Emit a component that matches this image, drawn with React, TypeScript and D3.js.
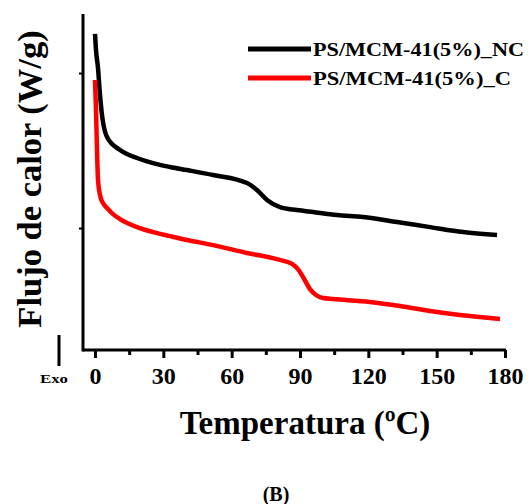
import React, { useEffect, useRef } from 'react';
import * as d3 from 'd3';

// temperature (ºC) and heat flow (W/g, arbitrary offset)
const tempNC = [0, 0.44, 1.32, 2.2, 3.07, 3.51, 5.27, 10.98, 18.44, 25.46, 32.93, 40.39, 51.8, 66.73, 71.12, 75.51, 81.22, 88.68, 95.71, 106.2, 117.7, 132.6, 147.1, 161.6, 176.5];
const flowNC = [2.252, 2.148, 2.032, 1.858, 1.729, 1.684, 1.587, 1.503, 1.452, 1.419, 1.394, 1.374, 1.342, 1.29, 1.245, 1.181, 1.135, 1.116, 1.103, 1.084, 1.071, 1.039, 1.006, 0.974, 0.955];

const tempC = [0, 0.44, 0.88, 1.32, 2.2, 3.51, 5.27, 7.9, 10.98, 18.44, 25.46, 32.93, 40.39, 51.8, 66.73, 81.22, 86.49, 89.12, 91.32, 94.39, 97.02, 100.1, 104.5, 120.7, 133.9, 147.1, 160.2, 177.8];
const flowC = [1.955, 1.761, 1.503, 1.31, 1.213, 1.161, 1.129, 1.09, 1.058, 1.006, 0.974, 0.948, 0.923, 0.89, 0.839, 0.794, 0.768, 0.735, 0.684, 0.606, 0.568, 0.548, 0.542, 0.523, 0.497, 0.465, 0.439, 0.413];

const seriesNames = ['PS/MCM-41(5%)_NC', 'PS/MCM-41(5%)_C'];
const seriesColors = ['#000000', '#ff0000'];
const xTicks = [0, 30, 60, 90, 120, 150, 180];
const xMinorTicks = [15, 45, 75, 105, 135, 165];
const yTicks = [1, 2];

const font = '"Liberation Serif", "Times New Roman", serif';

const App: React.FC = () => {
  const svgRef = useRef<SVGSVGElement>(null);

  useEffect(() => {
    if (!svgRef.current) return;
    const svg = d3.select(svgRef.current);
    svg.selectAll('*').remove();

    const x = d3.scaleLinear().domain([-5.27, 180]).range([83, 505]);
    const y = d3.scaleLinear().domain([0.213, 2.381]).range([350, 14]);

    const line = d3
      .line<[number, number]>()
      .x(d => x(d[0]))
      .y(d => y(d[1]))
      .curve(d3.curveMonotoneX);

    const series: [number, number][][] = [
      tempNC.map((t, i) => [t, flowNC[i]]),
      tempC.map((t, i) => [t, flowC[i]])
    ];

    series.forEach((s, i) => {
      svg.append('path')
        .attr('d', line(s))
        .attr('fill', 'none')
        .attr('stroke', seriesColors[i])
        .attr('stroke-width', 4.5)
        .attr('stroke-linejoin', 'round');
    });

    // x axis
    const xAxis = svg.append('g')
      .attr('transform', 'translate(0,350)')
      .call(d3.axisBottom(x).tickValues(xTicks).tickSize(8).tickSizeOuter(0).tickFormat(d => String(d)));
    xAxis.select('.domain').attr('stroke-width', 3).attr('d', 'M83,0H506');
    xAxis.selectAll('.tick line').attr('stroke-width', 3);
    xAxis.selectAll('.tick text')
      .attr('y', 34)
      .attr('dy', 0)
      .style('font-family', font)
      .style('font-weight', 'bold')
      .style('font-size', '24px')
      .attr('fill', '#000');

    const xMinor = svg.append('g')
      .attr('transform', 'translate(0,350)')
      .call(d3.axisBottom(x).tickValues(xMinorTicks).tickSize(5).tickFormat(() => ''));
    xMinor.select('.domain').remove();
    xMinor.selectAll('.tick line').attr('stroke-width', 3);

    // y axis
    const yAxis = svg.append('g')
      .attr('transform', 'translate(83,0)')
      .call(d3.axisLeft(y).tickValues(yTicks).tickSize(4).tickSizeOuter(0).tickFormat(() => ''));
    yAxis.select('.domain').attr('stroke-width', 3).attr('d', 'M0,14V351.5');
    yAxis.selectAll('.tick line').attr('stroke-width', 2);

    // legend
    const legend = svg.append('g');
    seriesNames.forEach((name, i) => {
      const ly = 49 + i * 29;
      legend.append('line')
        .attr('x1', 248).attr('x2', 311)
        .attr('y1', ly).attr('y2', ly)
        .attr('stroke', seriesColors[i])
        .attr('stroke-width', 5);
      legend.append('text')
        .attr('x', 313)
        .attr('y', ly + 7)
        .attr('textLength', i === 0 ? 211 : 198)
        .attr('lengthAdjust', 'spacingAndGlyphs')
        .style('font-family', font)
        .style('font-weight', 'bold')
        .style('font-size', '19px')
        .text(name);
    });

    // axis titles
    svg.append('text')
      .attr('x', 305)
      .attr('y', 434)
      .attr('text-anchor', 'middle')
      .style('font-family', font)
      .style('font-weight', 'bold')
      .style('font-size', '33px')
      .text('Temperatura (ºC)');

    svg.append('text')
      .attr('transform', 'translate(41,179) rotate(-90)')
      .attr('text-anchor', 'middle')
      .style('font-family', font)
      .style('font-weight', 'bold')
      .style('font-size', '34.5px')
      .text('Flujo de calor (W/g)');

    // exo marker
    svg.append('line')
      .attr('x1', 59).attr('x2', 59)
      .attr('y1', 335).attr('y2', 366)
      .attr('stroke', '#000')
      .attr('stroke-width', 3);
    svg.append('text')
      .attr('x', 54)
      .attr('y', 383)
      .attr('text-anchor', 'middle')
      .attr('textLength', 28)
      .attr('lengthAdjust', 'spacingAndGlyphs')
      .style('font-family', font)
      .style('font-weight', 'bold')
      .style('font-size', '13px')
      .text('Exo');

    svg.append('text')
      .attr('x', 276)
      .attr('y', 501)
      .attr('text-anchor', 'middle')
      .style('font-family', font)
      .style('font-weight', 'bold')
      .style('font-size', '20px')
      .text('(B)');
  }, []);

  return (
    <svg
      ref={svgRef}
      width={532}
      height={504}
      style={{ position: 'absolute', left: 0, top: 0, background: '#fff' }}
    />
  );
};

export default App;
